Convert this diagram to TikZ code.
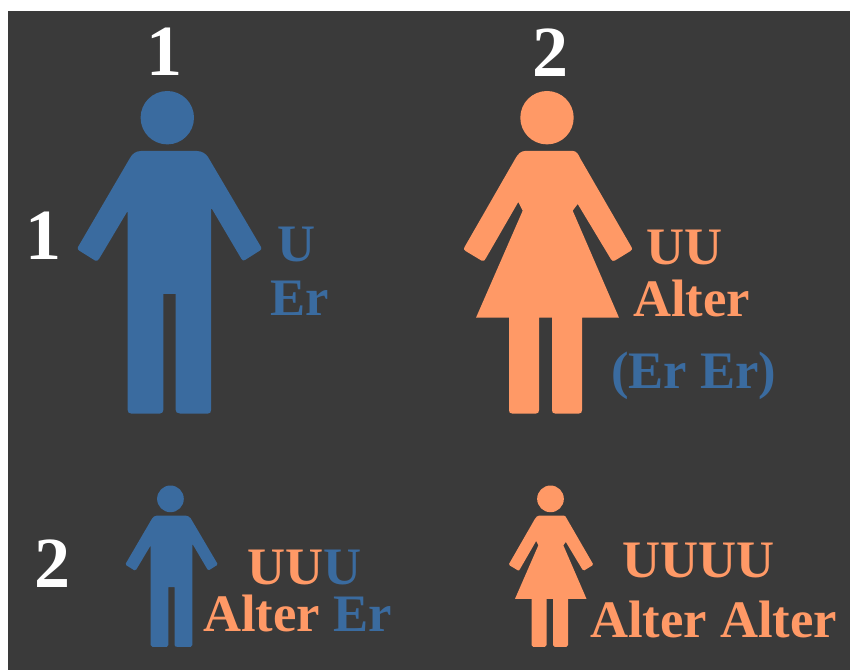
\documentclass[tikz,border=0pt]{standalone}
\usepackage{fontspec}
\setmainfont{Liberation Serif}
\definecolor{bgdark}{HTML}{3A3A3A}
\definecolor{manblue}{HTML}{3A6B9F}
\definecolor{womanorange}{HTML}{FF9966}
\tikzset{
  label text/.style={anchor=base west,inner sep=0pt,outer sep=0pt,font=\bfseries\fontsize{39.5}{44}\selectfont},
  digit text/.style={anchor=base west,inner sep=0pt,outer sep=0pt,text=white,font=\bfseries\fontsize{54}{60}\selectfont},
  man figure/.pic={
    \fill[manblue] (167.3,117.7) circle (26.7);
    \fill[manblue] (141,151) -- (197,151) .. controls (202,151) and (206,154) .. (208,157)
      -- (261,247) .. controls (261.5,248.5) and (261.5,249.5) .. (260,250.5)
      -- (245,260) .. controls (243.5,261) and (242.5,260.5) .. (241.5,259)
      -- (212,209) -- (211,209) -- (211,410) .. controls (211,412.5) and (210,413.5) .. (208,413.5)
      -- (180,413.5) .. controls (177,413.5) and (175.7,412) .. (175.7,410)
      -- (175.7,294) -- (163.3,294) -- (163.3,410) .. controls (163.3,412) and (162,413.5) .. (160,413.5)
      -- (131,413.5) .. controls (129,413.5) and (127.7,412.5) .. (127.7,410)
      -- (127.7,212) -- (127,212) -- (99,259) .. controls (98,260.5) and (96.5,261.5) .. (95,260.5)
      -- (79,250.5) .. controls (77.5,249.5) and (77.5,248.5) .. (78,247)
      -- (130,158) .. controls (132,154) and (136,151) .. (141,151) -- cycle;
  },
  woman figure/.pic={
    \fill[womanorange] (547,117.7) circle (26.7);
    \fill[womanorange] (525,151) -- (573,151) .. controls (576,151) and (578.5,154) .. (580,158)
      -- (631.7,247.5) .. controls (632.3,249) and (632,250) .. (630.5,251)
      -- (615,260.5) .. controls (613.5,261.3) and (612,261) .. (611,259.3)
      -- (577.7,204) -- (572.7,210.7) -- (619,317.7) -- (582,317.7) -- (582,410)
      .. controls (582,412.5) and (581,413.5) .. (579,413.5) -- (555,413.5)
      .. controls (553,413.5) and (552,412.5) .. (552,410) -- (552,317.7) -- (539,317.7) -- (539,410)
      .. controls (539,412.5) and (538,413.5) .. (536,413.5) -- (512,413.5)
      .. controls (510,413.5) and (509,412.5) .. (509,410) -- (509,317.7) -- (476,317.7)
      -- (522.7,210.7) -- (518.3,202) -- (486,258) .. controls (485,260.5) and (483.5,261.5) .. (481.7,260.7)
      -- (465.5,251) .. controls (464,250) and (463.7,249) .. (464.3,247.5)
      -- (515.7,158) .. controls (518,154) and (521,151) .. (525,151) -- cycle;
  }
}
\begin{document}
\begin{tikzpicture}[x=0.75pt,y=-0.75pt]
\useasboundingbox (0,0) rectangle (850,670);
\fill[white] (0,0) rectangle (850,670);
\fill[bgdark] (8,11) rectangle (850,670);

\pic {man figure};
\pic {woman figure};
\pic[shift={(86.8,440)},scale=0.5] {man figure};
\pic[shift={(277,440)},scale=0.5] {woman figure};

\node[digit text] (numTopOne) at (146.5,76) {1};
\node[digit text] (numTopTwo) at (532,77) {2};
\node[digit text] (numLeftOne) at (26,260) {1};
\node[digit text] (numLeftTwo) at (34,587) {2};

\node[label text,text=manblue] (uMan) at (277,262) {U};
\node[label text,text=manblue] (erMan) at (270,316) {Er};
\node[label text,text=womanorange] (uWoman) at (646,265) {UU};
\node[label text,text=womanorange] (alterWoman) at (633,317) {Alter};
\node[label text,text=manblue] (erWoman) at (611,388) {(Er Er)};
\node[label text,text=womanorange] (uBoy) at (247.5,584) {UU\textcolor{manblue}{U}};
\node[label text,text=womanorange] (alterBoy) at (203,631) {Alter \textcolor{manblue}{Er}};
\node[label text,text=womanorange] (uGirl) at (622,577) {UUUU};
\node[label text,text=womanorange] (alterGirl) at (590,637.5) {Alter Alter};
\end{tikzpicture}
\end{document}
